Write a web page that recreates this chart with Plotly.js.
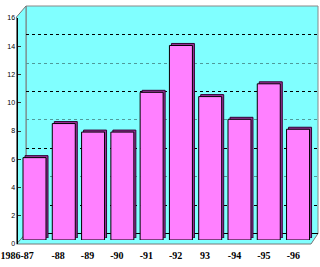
<!DOCTYPE html>
<html><head><meta charset="utf-8">
<script src="https://cdn.plot.ly/plotly-3.0.1.min.js"></script>
<style>html,body{margin:0;padding:0;background:#fff}#c{width:320px;height:267px}</style>
</head><body><div id="c"></div>
<script>
const categories = ['1986-87','-88','-89','-90','-91','-92','93','-94','-95','-96'];
const values = [5.8, 8.2, 7.6, 7.6, 10.4, 13.7, 10.1, 8.5, 11.0, 7.8];
const yTicks = [0,2,4,6,8,10,12,14,16];

const W = 320, H = 267;
const px = x => x / W;
const py = y => 1 - y / H;
function path(pts){ return 'M ' + pts.map(p => px(p[0]) + ',' + py(p[1])).join(' L ') + ' Z'; }

const zeros = categories.map(() => 0);
const labelFont = {family:'Liberation Serif', size:10, color:'#000', weight:'bold'};

const traces = [
  {type:'scatter', x:[0.5], y:[0], mode:'none', xaxis:'x', yaxis:'y', hoverinfo:'skip'},
  {type:'scatter', x:[0.5], y:[0], mode:'none', xaxis:'x', yaxis:'y5', hoverinfo:'skip'},
  {type:'bar', x:categories, y:values, xaxis:'x2', yaxis:'y2',
   marker:{color:'#993399', line:{color:'#330033', width:1}}, hoverinfo:'skip'},
  {type:'bar', x:categories, y:values, xaxis:'x3', yaxis:'y3',
   marker:{color:'#ff80ff', line:{color:'#000000', width:1}}, hoverinfo:'skip'},
  {type:'scatter', x:categories, y:zeros, mode:'none', xaxis:'x4', yaxis:'y4', hoverinfo:'skip'},
  {type:'scatter', x:categories, y:zeros, mode:'none', xaxis:'x6', yaxis:'y4', hoverinfo:'skip'}
];

const hidden = {showgrid:false, zeroline:false, showline:false, showticklabels:false, ticks:''};
const layout = {
  width: W, height: H,
  margin: {l:0, r:0, t:0, b:0, pad:0},
  paper_bgcolor: '#ffffff', plot_bgcolor: 'rgba(0,0,0,0)',
  showlegend: false, bargap: 0.215,
  xaxis: Object.assign({}, hidden, {domain:[px(26), px(318)], range:[0,1], anchor:'y'}),
  yaxis: {domain:[py(233.5), py(6.3)], range:[0,16], anchor:'x', tick0:2, dtick:4,
          showgrid:true, gridcolor:'#000000', griddash:'3px,3px', gridwidth:1,
          zeroline:true, zerolinecolor:'#000000', zerolinewidth:1,
          showline:false, showticklabels:false, ticks:''},
  yaxis5: {overlaying:'y', anchor:'x', range:[0,16], tick0:0, dtick:4,
           showgrid:true, gridcolor:'#4f9a9a', griddash:'3px,3px', gridwidth:1,
           zeroline:false, showline:false, showticklabels:false, ticks:''},
  xaxis2: Object.assign({}, hidden, {domain:[px(21.86), px(314.7)], type:'category', range:[-0.5,9.5], anchor:'y2'}),
  yaxis2: Object.assign({}, hidden, {domain:[py(238), py(10.8)], range:[0,16], anchor:'x2'}),
  xaxis3: Object.assign({}, hidden, {domain:[px(19.86), px(312.7)], type:'category', range:[-0.5,9.5], anchor:'y3'}),
  yaxis3: Object.assign({}, hidden, {domain:[py(240), py(12.8)], range:[0,16], anchor:'x3'}),
  xaxis4: {domain:[px(14), px(308)], type:'category', range:[-0.5,9.5], anchor:'free', position:py(248),
           tickmode:'array', tickvals:categories.slice(1), ticktext:categories.slice(1), ticks:'', showline:false,
           showgrid:false, zeroline:false, tickangle:0, tickfont:labelFont},
  xaxis6: {domain:[px(2.5), px(296.5)], type:'category', range:[-0.5,9.5], anchor:'free', position:py(248),
           tickmode:'array', tickvals:categories.slice(0,1), ticktext:categories.slice(0,1), ticks:'', showline:false,
           showgrid:false, zeroline:false, tickangle:0, tickfont:labelFont},
  yaxis4: {domain:[py(244), py(18)], range:[0,16], anchor:'free', position:px(16.5),
           tickmode:'array', tickvals:yTicks, showline:true, linecolor:'#000', linewidth:1,
           ticks:'inside', ticklen:3, tickcolor:'#333', showgrid:false, zeroline:false,
           tickfont:{family:'Liberation Sans', size:7, color:'#000'}},
  shapes: [
    {type:'rect', xref:'paper', yref:'paper', layer:'below', x0:px(26), x1:px(318), y0:py(233.5), y1:py(6),
     fillcolor:'#80ffff', line:{color:'#888888', width:1}},
    {type:'path', xref:'paper', yref:'paper', layer:'below', path:path([[16.5,17],[26,6],[26,233.5],[16.5,244]]),
     fillcolor:'#80ffff', line:{color:'#777777', width:1}},
    {type:'path', xref:'paper', yref:'paper', layer:'below', path:path([[16.5,244],[26,233.5],[318,233.5],[311,244]]),
     fillcolor:'#80ffff', line:{color:'#777777', width:1}}
  ]
};
Plotly.newPlot('c', traces, layout, {staticPlot:true, displayModeBar:false});
</script></body></html>
